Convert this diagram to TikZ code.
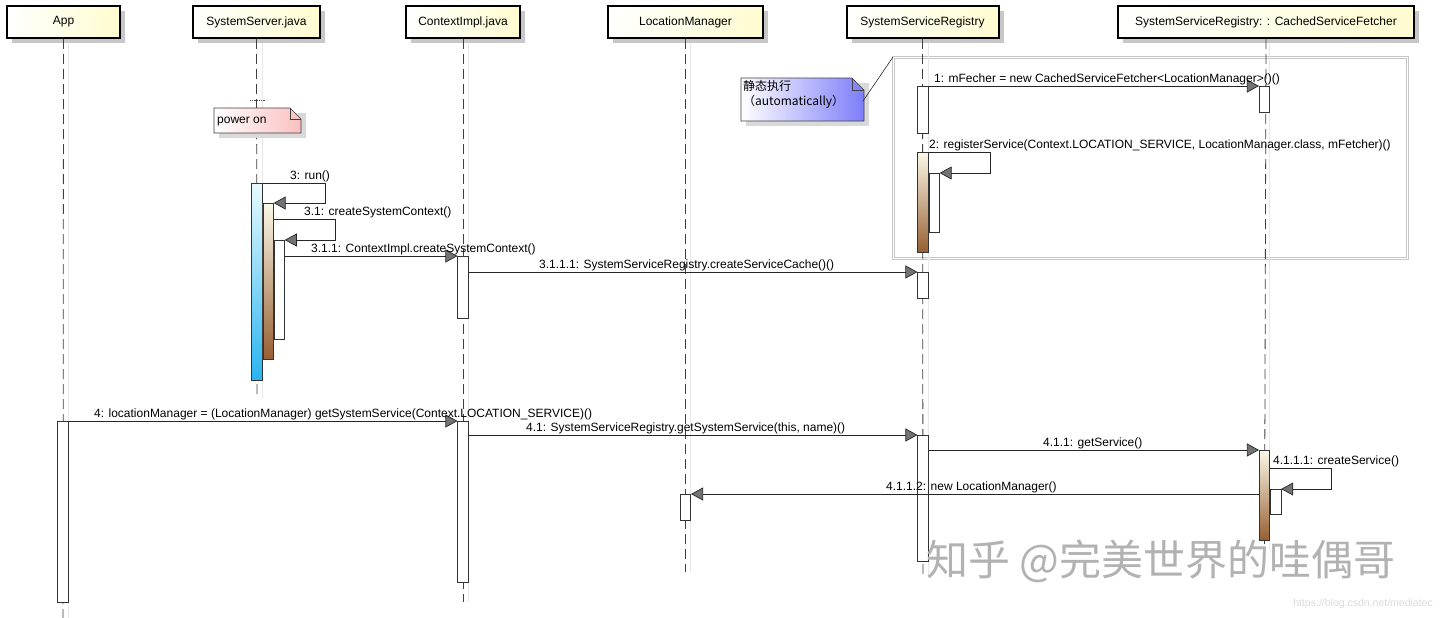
\documentclass[tikz,border=0pt]{standalone}
\usepackage{fontspec}
\setmainfont{Liberation Sans}
\newfontfamily\cjk{Noto Sans CJK SC}
\usetikzlibrary{arrows.meta,positioning,calc,shadows}
\definecolor{headyel}{RGB}{255,252,208}
\definecolor{blueTop}{RGB}{232,250,255}
\definecolor{blueBot}{RGB}{40,180,240}
\definecolor{brownTop}{RGB}{252,248,232}
\definecolor{brownBot}{RGB}{150,95,50}
\definecolor{notePink}{RGB}{250,192,192}
\definecolor{noteBlue}{RGB}{125,125,250}

\begin{document}
\begin{tikzpicture}[
  x=1pt,y=-1pt,
  font=\fontsize{12}{13.5}\selectfont,
  head/.style={draw=black,line width=2pt,left color=white,right color=headyel,
    minimum height=32pt,inner sep=2pt,
    drop shadow={shadow xshift=5pt,shadow yshift=-5pt,fill=black!22,opacity=1}},
  life/.style={draw=black!75,line width=0.8pt,dash pattern=on 10pt off 5pt},
  lifeshade/.style={draw=black!9,line width=1pt},
  bar/.style={draw=black!80,fill=white,line width=0.6pt,minimum width=10.5pt,
    inner sep=0pt,anchor=north},
  bluebar/.style={bar,top color=blueTop,bottom color=blueBot},
  brownbar/.style={bar,top color=brownTop,bottom color=brownBot},
  msg/.style={draw=black!85,line width=0.7pt,
    -{Triangle[length=12pt,width=13pt,fill=black!55]}},
  lbl/.style={anchor=base west,inner sep=0pt}
]
  \fill[white] (0,0) rectangle (1440,618);
  \useasboundingbox (0,0) rectangle (1440,618);

  % group frame for the static part
  \node[draw=black!22,line width=1.2pt,double=white,double distance=1.2pt,
    minimum width=514pt,minimum height=201pt,anchor=north west] (grp) at (893,57) {};

  % lifelines
  \foreach \x/\e in {63/618,257/398,463/602,685.5/572,923/576,1264.5/550}
    \draw[lifeshade] (\x+5,38) -- (\x+5,\e);
  \node[head,minimum width=113pt] (app) at (63.5,22) {App};
  \node[head,minimum width=127pt] (srv) at (256.5,22) {SystemServer.java};
  \node[head,minimum width=114pt] (ctx) at (463,22) {ContextImpl.java};
  \node[head,minimum width=155pt] (lm) at (685.5,22) {LocationManager};
  \node[head,minimum width=152pt] (ssr) at (922.5,22) {SystemServiceRegistry};
  \node[head,minimum width=296pt] (csf) at (1266,22) {SystemServiceRegistry: : CachedServiceFetcher};
  \draw[life] (app.south) -- (63,618);
  \draw[life] (srv.south) -- (257,398);
  \draw[life] (ctx.south) -- (463,602);
  \draw[life] (lm.south) -- (685.5,572);
  \draw[life] (ssr.south) -- (923,576);
  \draw[life] (csf.south) -- (1264.5,550);

  % power on note
  \coordinate (pwrTick) at (257,100);
  \draw[densely dotted,black!70,line width=0.8pt] ($(pwrTick)+(-7,0)$) -- ($(pwrTick)+(8,0)$);
  \coordinate (pwrNW) at (214,108);
  \coordinate (pwrSE) at (301,133);
  \fill[black!15] ($(pwrNW)+(5,5)$) rectangle ($(pwrSE)+(5,5)$);
  \shadedraw[left color=white,right color=notePink,draw=black!75,line width=0.6pt]
    (pwrNW) -- ($(pwrNW -| pwrSE)+(-11,0)$) -- ($(pwrNW -| pwrSE)+(0,11)$)
    -- (pwrSE) -- (pwrNW |- pwrSE) -- cycle;
  \draw[black!75,line width=0.6pt] ($(pwrNW -| pwrSE)+(-11,0)$) -- ++(0,11) -- ++(11,0);
  \node[lbl] (pwr) at (217,123) {power on};

  % static note
  \coordinate (autoNW) at (741,78);
  \coordinate (autoSE) at (864,121);
  \fill[black!15] ($(autoNW)+(5,5)$) rectangle ($(autoSE)+(5,5)$);
  \shadedraw[left color=white,right color=noteBlue,draw=black!75,line width=0.6pt]
    (autoNW) -- ($(autoNW -| autoSE)+(-12,0)$) -- ($(autoNW -| autoSE)+(0,12)$)
    -- (autoSE) -- (autoNW |- autoSE) -- cycle;
  \draw[black!75,line width=0.6pt] ($(autoNW -| autoSE)+(-12,0)$) -- ++(0,12) -- ++(12,0);
  \node[anchor=north west,align=left,inner sep=0pt,
    font=\cjk\fontsize{12}{15.5}\selectfont] (auto) at (743,80) {静态执行\\（automatically）};
  \coordinate (autoE) at (863,101);
  \draw[black!85,line width=0.6pt] (autoE) -- (grp.north west);

  % activations
  \node[bluebar,minimum height=197pt] (ss1) at (257,183) {};
  \node[brownbar,anchor=north west,minimum height=156pt] (ss2) at (ss1.east |- 0,203) {};
  \node[bar,anchor=north west,minimum height=99pt] (ss3) at (ss2.east |- 0,240) {};
  \node[bar,minimum height=62pt] (ctx1) at (463,256) {};
  \node[bar,minimum height=161pt] (ctx2) at (463,421) {};
  \node[bar,minimum height=181pt] (app1) at (63,421) {};
  \node[bar,minimum height=47pt] (ssr1) at (923,86) {};
  \node[brownbar,minimum height=100pt] (ssr2) at (923,152) {};
  \node[bar,anchor=north west,minimum height=59pt] (ssr3) at (ssr2.east |- 0,173) {};
  \node[bar,minimum height=26pt] (ssr4) at (923,272) {};
  \node[bar,minimum height=126pt] (ssr5) at (923,435) {};
  \node[bar,minimum height=26pt] (csf1) at (1264.5,86) {};
  \node[brownbar,minimum height=90pt] (csf2) at (1264.5,450) {};
  \node[bar,anchor=north west,minimum height=25pt] (csf3) at (csf2.east |- 0,489) {};
  \node[bar,minimum height=26pt] (lm1) at (685.5,494) {};

  % messages
  \draw[msg] (ssr1.north east) -- (csf1.north west);
  \draw[msg] (ssr2.north east) -- ++(62,0) |- (ssr3.north east);
  \draw[msg] (ss1.north east) -- ++(63,0) |- (ss2.north east);
  \draw[msg] (ss2.east |- 0,219) -- ++(62,0) |- (ss3.north east);
  \draw[msg] (ss3.east |- ctx1.north) -- (ctx1.north west);
  \draw[msg] (ctx1.east |- ssr4.north) -- (ssr4.north west);
  \draw[msg] (app1.north east) -- (ctx2.north west);
  \draw[msg] (ctx2.east |- ssr5.north) -- (ssr5.north west);
  \draw[msg] (ssr5.east |- csf2.north) -- (csf2.north west);
  \draw[msg] (csf2.east |- 0,468) -- ++(61,0) |- (csf3.north east);
  \draw[msg] (csf2.west |- lm1.north) -- (lm1.north east);

  \node[lbl] (t1) at (934,82.5) {1: mFecher = new CachedServiceFetcher<LocationManager>()()};
  \node[lbl] (t2) at (929,148.5) {2: registerService(Context.LOCATION\_SERVICE, LocationManager.class, mFetcher)()};
  \node[lbl] (t3) at (290,179.5) {3: run()};
  \node[lbl] (t31) at (304,215.5) {3.1: createSystemContext()};
  \node[lbl] (t311) at (311,252.5) {3.1.1: ContextImpl.createSystemContext()};
  \node[lbl] (t3111) at (539,268.5) {3.1.1.1: SystemServiceRegistry.createServiceCache()()};
  \node[lbl] (t4) at (94,417.5) {4: locationManager = (LocationManager) getSystemService(Context.LOCATION\_SERVICE)()};
  \node[lbl] (t41) at (526,431.5) {4.1: SystemServiceRegistry.getSystemService(this, name)()};
  \node[lbl] (t411) at (1043,446.5) {4.1.1: getService()};
  \node[lbl] (t4111) at (1273,464.5) {4.1.1.1: createService()};
  \node[lbl] (t4112) at (886,490.5) {4.1.1.2: new LocationManager()};

  % watermarks
  \node[anchor=west,inner sep=0pt,text=black!30,
    font=\cjk\fontsize{42}{42}\selectfont] (wm) at (926,561) {知乎 @完美世界的哇偶哥};
  \node[anchor=east,inner sep=0pt,text=black!14,
    font=\fontsize{10.5}{12}\selectfont] (url) at (1433,604) {https://blog.csdn.net/mediatec};
\end{tikzpicture}
\end{document}
